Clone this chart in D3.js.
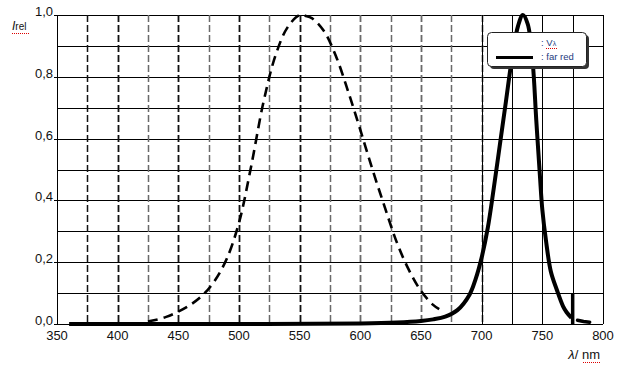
<!DOCTYPE html>
<html>
<head>
<meta charset="utf-8">
<script src="https://cdn.jsdelivr.net/npm/d3@7"></script>
<style>
  body { margin: 0; background: #fff; }
  svg { display: block; font-family: "Liberation Sans", Arial, sans-serif; }
</style>
</head>
<body>
<svg></svg>
<script>
'use strict';

// size of the picture and the margins round the plot area
var SVG_SIZE = {width: 620, height: 368};
var MARGIN_SIZE = {left: 57, top: 15, right: 17, bottom: 44};

// data
var xTicks = [350, 400, 450, 500, 550, 600, 650, 700, 750, 800];
var yTicks = [0, 0.2, 0.4, 0.6, 0.8, 1.0];
var yGrid = [0.1, 0.2, 0.3, 0.4, 0.5, 0.6, 0.7, 0.8, 0.9, 1.0];
var dashedGrid = [375, 400, 425, 450, 475, 500, 525, 550, 575, 600, 625, 650, 675, 700];
var solidGrid = [700, 725, 750, 775, 800];

// V(lambda), dashed curve
var vLambda = [
  [425, 0.008], [430, 0.012], [440, 0.023], [450, 0.040], [460, 0.062],
  [470, 0.093], [480, 0.140], [490, 0.212], [500, 0.328], [510, 0.510],
  [520, 0.715], [530, 0.868], [540, 0.960], [550, 1.0], [555, 0.997],
  [560, 0.990], [570, 0.948], [580, 0.866], [590, 0.752], [600, 0.628],
  [610, 0.500], [620, 0.380], [630, 0.265], [640, 0.175], [650, 0.107],
  [660, 0.062], [665, 0.048]
];

// far red LED, solid thick curve
var farRed = [
  [360, 0], [500, 0], [600, 0.002], [630, 0.005], [650, 0.010], [660, 0.015],
  [670, 0.024], [680, 0.045], [690, 0.095], [695, 0.145], [700, 0.215],
  [705, 0.31], [710, 0.44], [715, 0.58], [720, 0.72], [725, 0.86],
  [730, 0.965], [734, 1.0], [738, 0.97], [742, 0.85], [745, 0.66],
  [748, 0.48], [750, 0.37], [753, 0.27], [757, 0.17], [762, 0.11],
  [767, 0.058], [770, 0.038], [774, 0.02]
];
var farRedTail = [[779, 0.012], [784, 0.008], [789, 0.006]];
var farRedBar = [[775, 0.1], [775, 0]];

var legendLabels = ['V', 'far  red'];

var svg = d3.select('svg')
  .attr('width', SVG_SIZE.width).attr('height', SVG_SIZE.height);

var displayWidth = SVG_SIZE.width - MARGIN_SIZE.left - MARGIN_SIZE.right;
var displayHeight = SVG_SIZE.height - MARGIN_SIZE.top - MARGIN_SIZE.bottom;

var xScale = d3.scaleLinear().domain([350, 800]).range([0, displayWidth]);
var yScale = d3.scaleLinear().domain([0, 1]).range([displayHeight, 0]);

var plot = svg.append('g')
  .attr('transform', 'translate(' + MARGIN_SIZE.left + ',' + MARGIN_SIZE.top + ')');

// horizontal grid
plot.selectAll('.hgrid').data(yGrid).enter().append('line')
  .attr('x1', 0).attr('x2', displayWidth)
  .attr('y1', function(d){ return Math.round(yScale(d)) + 0.5; })
  .attr('y2', function(d){ return Math.round(yScale(d)) + 0.5; })
  .attr('stroke', '#000').attr('stroke-width', 1);

// dashed vertical grid (V-lambda chart)
plot.selectAll('.dgrid').data(dashedGrid).enter().append('line')
  .attr('x1', function(d){ return Math.round(xScale(d)) + 0.5; })
  .attr('x2', function(d){ return Math.round(xScale(d)) + 0.5; })
  .attr('y1', 0).attr('y2', displayHeight)
  .attr('stroke', function(d){ return (d <= 550 && d % 50 === 0) || d === 375 ? '#111' : '#6a6a6a'; })
  .attr('stroke-width', function(d){ return d % 50 === 0 ? 1.8 : 1.5; })
  .attr('stroke-dasharray', '7,3');

// solid vertical grid on the right
plot.selectAll('.sgrid').data(solidGrid).enter().append('line')
  .attr('x1', function(d){ return Math.round(xScale(d)) + 0.5; })
  .attr('x2', function(d){ return Math.round(xScale(d)) + 0.5; })
  .attr('y1', 0).attr('y2', displayHeight)
  .attr('stroke', '#000').attr('stroke-width', 1);

// axes lines
plot.append('line').attr('x1', 0.5).attr('x2', 0.5).attr('y1', 0).attr('y2', displayHeight + 0.5)
  .attr('stroke', '#000');
plot.append('line').attr('x1', 0).attr('x2', displayWidth).attr('y1', displayHeight + 0.5).attr('y2', displayHeight + 0.5)
  .attr('stroke', '#000');

// y ticks and labels
var yFmt = function(d){ return d.toFixed(1).replace('.', ','); };
plot.selectAll('.ytick').data(yTicks).enter().append('line')
  .attr('x1', -3).attr('x2', 0)
  .attr('y1', function(d){ return Math.round(yScale(d)) + 0.5; })
  .attr('y2', function(d){ return Math.round(yScale(d)) + 0.5; })
  .attr('stroke', '#000');
plot.selectAll('.ylab').data(yTicks).enter().append('text')
  .attr('x', -4).attr('y', function(d){ return yScale(d) + 1; })
  .attr('text-anchor', 'end').attr('font-size', 13).attr('fill', '#111')
  .text(yFmt);

// x labels
plot.selectAll('.xlab').data(xTicks).enter().append('text')
  .attr('x', function(d){ return xScale(d); }).attr('y', displayHeight + 16)
  .attr('text-anchor', 'middle').attr('font-size', 13).attr('fill', '#111')
  .text(function(d){ return d; });

var line = d3.line()
  .x(function(d){ return xScale(d[0]); })
  .y(function(d){ return yScale(d[1]); });

// V-lambda dashed
plot.append('path').datum(vLambda)
  .attr('d', line.curve(d3.curveCatmullRom))
  .attr('fill', 'none').attr('stroke', '#000')
  .attr('stroke-width', 2.6).attr('stroke-dasharray', '10,6');

// far red
plot.append('path').datum(farRed)
  .attr('d', line.curve(d3.curveCatmullRom))
  .attr('fill', 'none').attr('stroke', '#000')
  .attr('stroke-width', 4).attr('stroke-linejoin', 'round');
plot.append('path').datum(farRedTail)
  .attr('d', line.curve(d3.curveLinear))
  .attr('fill', 'none').attr('stroke', '#000')
  .attr('stroke-width', 3.5).attr('stroke-linecap', 'round');
plot.append('path').datum(farRedBar)
  .attr('d', line.curve(d3.curveLinear))
  .attr('fill', 'none').attr('stroke', '#000')
  .attr('stroke-width', 3.5);

// legend
var legend = svg.append('g').attr('transform', 'translate(487,32)');
legend.append('rect').attr('x', 3).attr('y', 3).attr('width', 99).attr('height', 34)
  .attr('rx', 4).attr('fill', '#333');
legend.append('rect').attr('x', 0.5).attr('y', 0.5).attr('width', 99).attr('height', 34)
  .attr('rx', 4).attr('fill', '#fff').attr('stroke', '#222');
legend.append('line').attr('x1', 9).attr('x2', 46).attr('y1', 25.5).attr('y2', 25.5)
  .attr('stroke', '#000').attr('stroke-width', 3);
var t1 = legend.append('text').attr('x', 54).attr('y', 14).attr('font-size', 9.5).attr('fill', '#1d3b80');
t1.append('tspan').text(': ' + legendLabels[0]);
t1.append('tspan').attr('font-size', 7).text('λ');
legend.append('text').attr('x', 54).attr('y', 28).attr('font-size', 9.5).attr('fill', '#1d3b80')
  .text(': ' + legendLabels[1]);
legend.append('line').attr('x1', 59).attr('x2', 70).attr('y1', 16.5).attr('y2', 16.5)
  .attr('stroke', '#d00').attr('stroke-dasharray', '1,1');

// axis titles
var yt = svg.append('text').attr('x', 12).attr('y', 30).attr('fill', '#111');
yt.append('tspan').attr('font-style', 'italic').attr('font-size', 12).text('I');
yt.append('tspan').attr('font-size', 10).text('rel');
svg.append('line').attr('x1', 12).attr('x2', 29).attr('y1', 33.5).attr('y2', 33.5)
  .attr('stroke', '#d00').attr('stroke-dasharray', '1,1');

var xt = svg.append('text').attr('x', 600).attr('y', 359).attr('text-anchor', 'end')
  .attr('font-size', 13).attr('fill', '#111');
xt.append('tspan').attr('font-style', 'italic').text('λ');
xt.append('tspan').text('/ nm');
svg.append('line').attr('x1', 583).attr('x2', 600).attr('y1', 362.5).attr('y2', 362.5)
  .attr('stroke', '#d00').attr('stroke-dasharray', '1,1');
</script>
</body>
</html>
